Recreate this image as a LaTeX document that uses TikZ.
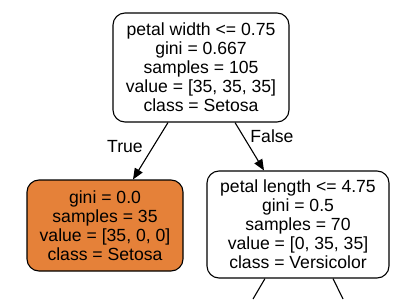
\documentclass[tikz,border=0pt]{standalone}
\usepackage{fontspec}
\setmainfont{Liberation Sans}
\usetikzlibrary{arrows.meta}
\definecolor{setosa}{HTML}{E58139}
\tikzset{
  treebox/.style={draw=black, line width=1.1pt, rounded corners=12pt, align=center,
    inner sep=0pt, font=\fontsize{17.6}{19}\selectfont},
  edgeline/.style={draw=black, line width=1.1pt},
  edgearrow/.style={edgeline, -{Triangle[length=11pt,width=9pt]}},
  edgelabel/.style={font=\fontsize{17.6}{19}\selectfont, inner sep=0pt}
}
\begin{document}
\begin{tikzpicture}[x=1pt,y=-1pt]
\useasboundingbox (0,0) rectangle (419,299);
\node[treebox, minimum width=176pt, minimum height=109pt] (root) at (201,67.5)
  {petal width <= 0.75\\gini = 0.667\\samples = 105\\value = [35, 35, 35]\\class = Setosa};
\node[treebox, fill=setosa, minimum width=156pt, minimum height=91pt] (left) at (105,225.5)
  {gini = 0.0\\samples = 35\\value = [35, 0, 0]\\class = Setosa};
\node[treebox, minimum width=182pt, minimum height=107pt] (right) at (298,224.5)
  {petal length <= 4.75\\gini = 0.5\\samples = 70\\value = [0, 35, 35]\\class = Versicolor};
\coordinate (rootL) at ([xshift=-33pt]root.south);
\coordinate (rootR) at ([xshift=34pt]root.south);
\coordinate (leftT) at ([xshift=28pt]left.north);
\coordinate (rightT) at ([xshift=-34pt]right.north);
\coordinate (rightBL) at ([xshift=-33pt]right.south);
\coordinate (rightBR) at ([xshift=35pt]right.south);
\coordinate (endL) at (253,299);
\coordinate (endR) at (343,299);
\draw[edgearrow] (rootL) -- (leftT);
\draw[edgearrow] (rootR) -- (rightT);
\draw[edgeline] (rightBL) -- (endL);
\draw[edgeline] (rightBR) -- (endR);
\node[edgelabel] (truelbl) at (125,147) {True};
\node[edgelabel] (falselbl) at (272,136) {False};
\end{tikzpicture}
\end{document}
